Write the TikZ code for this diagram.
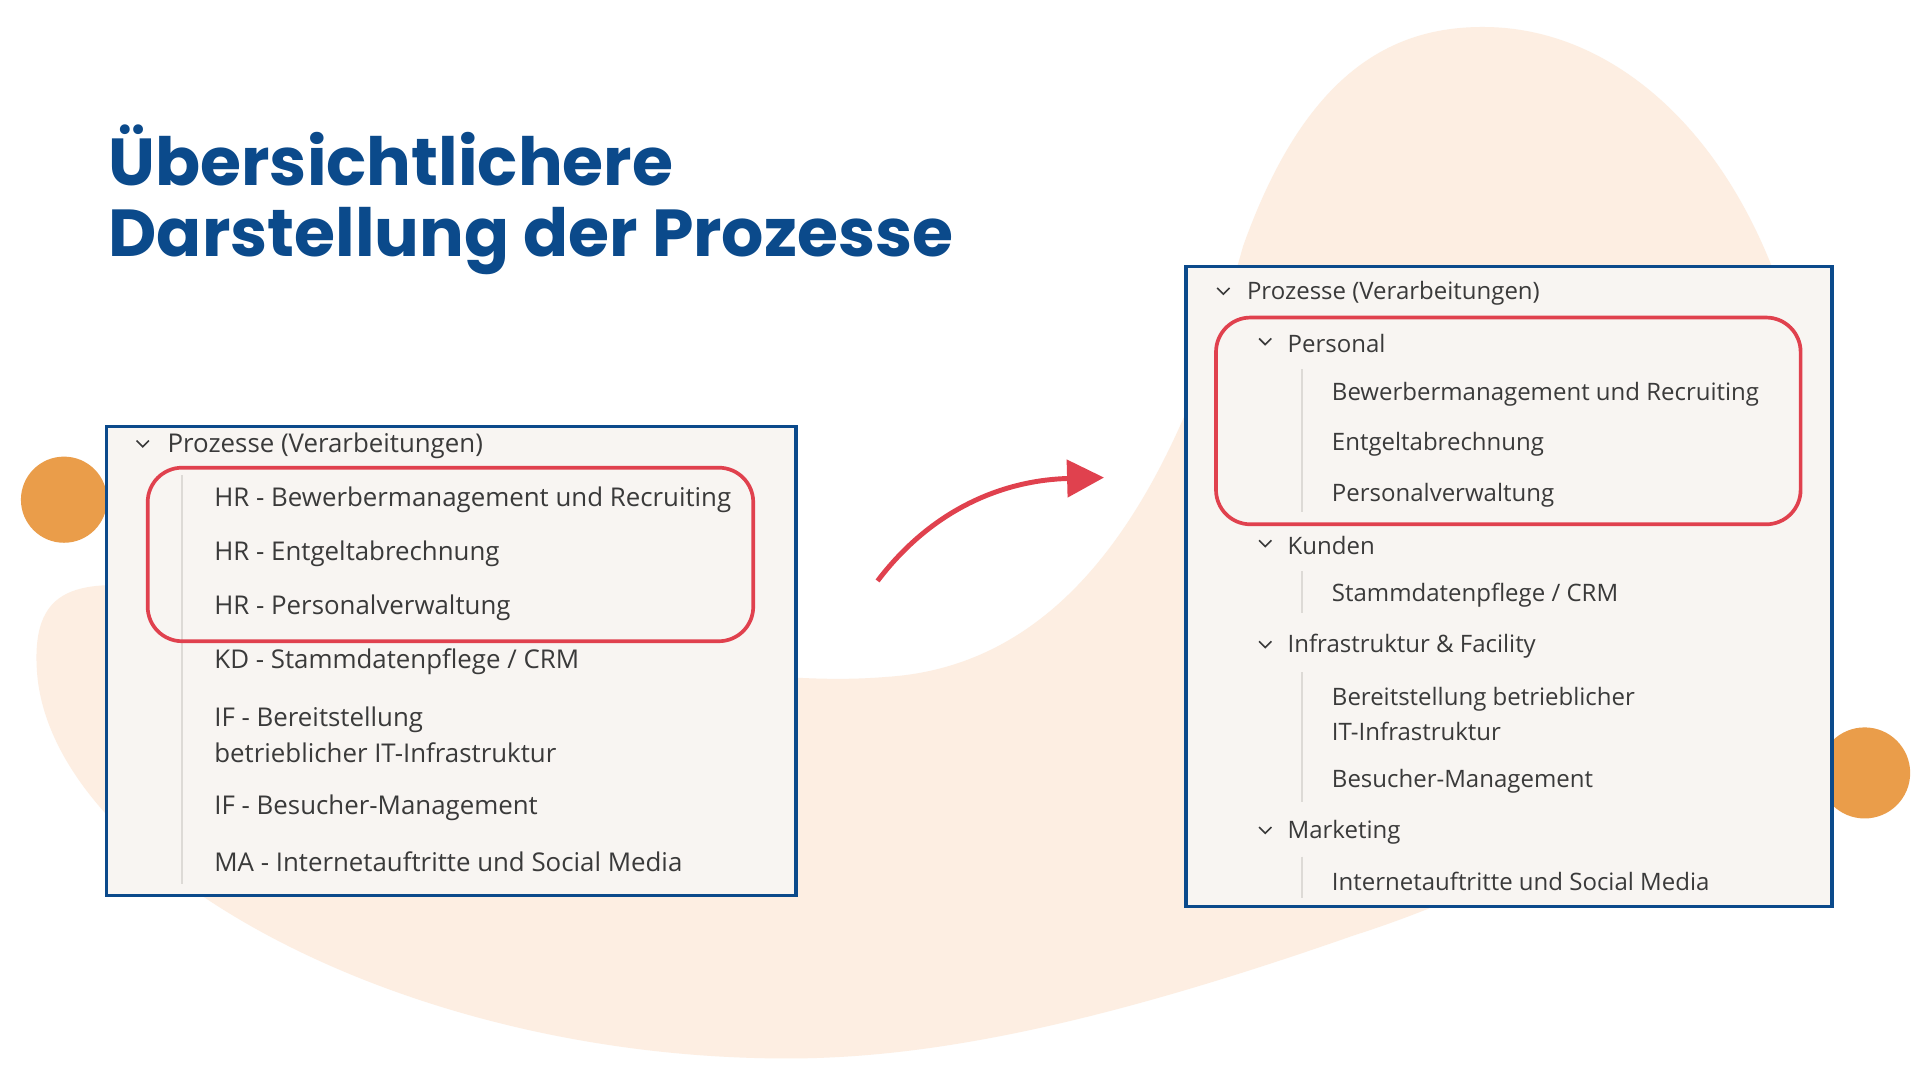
\documentclass[tikz,border=0pt]{standalone}
\usepackage{fontspec}
\setmainfont{Open Sans}
\newfontfamily\titlefont{Poppins}
\definecolor{blob}{HTML}{FDEEE2}
\definecolor{orng}{HTML}{EA9D4A}
\definecolor{navy}{HTML}{0B4A8B}
\definecolor{panel}{HTML}{F8F5F2}
\definecolor{redc}{HTML}{E0414E}
\definecolor{txt}{HTML}{3A3A3A}
\definecolor{guide}{HTML}{DDDAD6}
\tikzset{
  item/.style={anchor=west,inner sep=0pt,font=\fontsize{19.5}{29}\selectfont,text=txt,align=left},
  litem/.style={item,font=\fontsize{21}{30}\selectfont},
  panelbox/.style={draw=navy,line width=3pt,fill=panel},
  hilite/.style={draw=redc,line width=3pt,rounded corners=28pt},
  chev/.style={draw=txt,line width=1.3pt},
  guideline/.style={draw=guide,line width=2pt},
  ttl/.style={anchor=west,inner sep=0pt,font=\titlefont\bfseries\fontsize{54}{64}\selectfont,text=navy},
}
\newcommand{\chevat}[1]{\draw[chev] ($(#1)+(-5,-3)$) -- ($(#1)+(0,2)$) -- ($(#1)+(5,-3)$);}
\usetikzlibrary{calc,arrows.meta}
\begin{document}
\begin{tikzpicture}[x=1pt,y=-1pt]
\useasboundingbox (0,0) rectangle (1560,877.5);
\fill[white] (0,0) rectangle (1560,877.5);
% blob
\fill[blob] (30,545) .. controls (25,470) and (70,470) .. (150,480)
  .. controls (450,520) and (600,560) .. (720,550)
  .. controls (880,540) and (960,380) .. (1010,200)
  .. controls (1060,60) and (1130,20) .. (1210,22)
  .. controls (1330,25) and (1440,140) .. (1470,330)
  .. controls (1500,520) and (1350,680) .. (1100,760)
  .. controls (900,830) and (760,860) .. (640,860)
  .. controls (320,860) and (40,700) .. (30,545) -- cycle;
% orange circles
\fill[orng] (52,406) circle (35);
\fill[orng] (1515,628) circle (37);
% title
\node[ttl] (t1) at (88,126) {Übersichtlichere};
\node[ttl] (t2) at (88,196) {Darstellung der Prozesse};
% left panel
\node[panelbox,minimum width=560pt,minimum height=381pt,anchor=north west,inner sep=0pt] (L) at (85,345) {};
\draw[guideline] (148,386) -- (148,718);
\coordinate (lc) at (116,361); \chevat{lc}
\node[litem] (l0) at (136,362) {Prozesse (Verarbeitungen)};
\node[litem] (l1) at (174,406) {HR - Bewerbermanagement und Recruiting};
\node[litem] (l2) at (174,450) {HR - Entgeltabrechnung};
\node[litem] (l3) at (174,494) {HR - Personalverwaltung};
\node[litem] (l4) at (174,538) {KD - Stammdatenpflege / CRM};
\node[litem] (l5) at (174,597) {IF - Bereitstellung\\betrieblicher IT-Infrastruktur};
\node[litem] (l6) at (174,656) {IF - Besucher-Management};
\node[litem] (l7) at (174,700) {MA - Internetauftritte und Social Media};
\draw[hilite] (120,380) rectangle (612,521);
% right panel
\node[panelbox,minimum width=525pt,minimum height=520pt,anchor=north west,inner sep=0pt] (R) at (962,215) {};
\draw[guideline] (1058,300) -- (1058,416);
\draw[guideline] (1058,464) -- (1058,498);
\draw[guideline] (1058,546) -- (1058,652);
\draw[guideline] (1058,696) -- (1058,730);
\coordinate (rc0) at (994,237); \chevat{rc0}
\node[item] (r0) at (1013,238) {Prozesse (Verarbeitungen)};
\coordinate (rc1) at (1028,278); \chevat{rc1}
\node[item] (r1) at (1046,279) {Personal};
\node[item] (r2) at (1082,320) {Bewerbermanagement und Recruiting};
\node[item] (r3) at (1082,361) {Entgeltabrechnung};
\node[item] (r4) at (1082,402) {Personalverwaltung};
\coordinate (rc5) at (1028,442); \chevat{rc5}
\node[item] (r5) at (1046,443) {Kunden};
\node[item] (r6) at (1082,484) {Stammdatenpflege / CRM};
\coordinate (rc7) at (1028,524); \chevat{rc7}
\node[item] (r7) at (1046,525) {Infrastruktur \& Facility};
\node[item] (r8) at (1082,580) {Bereitstellung betrieblicher\\IT-Infrastruktur};
\node[item] (r9) at (1082,635) {Besucher-Management};
\coordinate (rc10) at (1028,675); \chevat{rc10}
\node[item] (r10) at (1046,676) {Marketing};
\node[item] (r11) at (1082,716) {Internetauftritte und Social Media};
\draw[hilite] (988,258) rectangle (1463,426);
% arrow
\coordinate (a0) at (713,472);
\coordinate (a1) at (897,388);
\draw[redc,line width=4pt,-{Triangle[length=30pt,width=30pt]}] (a0) .. controls (760,410) and (820,390) .. (a1);
\end{tikzpicture}
\end{document}
